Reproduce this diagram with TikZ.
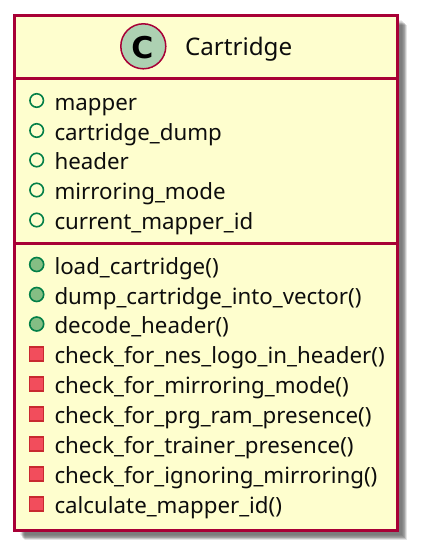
\documentclass[tikz,border=0pt]{standalone}
\usepackage{fontspec}
\setmainfont{Noto Sans}
\newfontfamily\spotfont{DejaVu Sans}
\definecolor{classfill}{HTML}{FEFECE}
\definecolor{classline}{HTML}{A80036}
\definecolor{spotfill}{HTML}{ADD1B2}
\definecolor{publine}{HTML}{038048}
\definecolor{pubfill}{HTML}{84BE84}
\definecolor{privline}{HTML}{C82930}
\definecolor{privfill}{HTML}{F24D5C}
\tikzset{
  x=1pt,y=-1pt,
  member/.style={anchor=base west,inner sep=0pt,outer sep=0pt,font=\fontsize{22.3}{22.3}\selectfont,text=black!95},
  fieldmark/.style={circle,draw=publine,line width=1.6pt,fill=none,minimum size=13.5pt,inner sep=0pt},
  pubmark/.style={circle,draw=publine,line width=1.6pt,fill=pubfill,minimum size=14pt,inner sep=0pt},
  privmark/.style={rectangle,draw=privline,line width=1.2pt,fill=privfill,minimum size=14pt,inner sep=0pt},
  rule/.style={draw=classline,line width=3pt},
}
\begin{document}
\begin{tikzpicture}
\useasboundingbox (0,0) rectangle (422,555);
\foreach \o/\a in {10/.05,9.5/.06,9/.07,8.5/.08,8/.09,7.5/.09,7/.09,6/.09,5/.06}{
  \fill[black,opacity=\a] (14.5+\o,15+\o) rectangle (397+\o,530+\o);
}
\node[draw=classline,fill=classfill,line width=3pt,inner sep=0pt,outer sep=0pt,minimum width=382.5pt,minimum height=515pt,anchor=north west] (box) at (14.5,15) {};
\draw[rule] (box.west |- 0,78) coordinate (h1) -- (box.east |- 0,78) coordinate (h2);
\draw[rule] (box.west |- 0,243) coordinate (h3) -- (box.east |- 0,243) coordinate (h4);
\node[circle,draw=classline,fill=spotfill,line width=1.5pt,minimum size=45pt,inner sep=0pt] (spot) at (143.3,46.3) {};
\node[font=\spotfont\bfseries\fontsize{30}{30}\selectfont,inner sep=0pt] (spotc) at (142.5,47.5) {C};
\node[member,font=\fontsize{24.2}{24.2}\selectfont] (title) at (185,55) {Cartridge};
\foreach \n/\y/\t in {f1/110/mapper,f2/140/cartridge\_dump,f3/169.5/header,f4/199.5/mirroring\_mode,f5/229.5/current\_mapper\_id}{
  \node[fieldmark] (\n m) at (36.7,\y-9.5) {};
  \node[member] (\n) at (54.5,\y) {\t};
}
\foreach \n/\y/\t in {m1/274/load\_cartridge(),m2/304/dump\_cartridge\_into\_vector(),m3/333.5/decode\_header()}{
  \node[pubmark] (\n m) at (36.7,\y-9.5) {};
  \node[member] (\n) at (54.5,\y) {\t};
}
\foreach \n/\y/\t in {p1/363.5/check\_for\_nes\_logo\_in\_header(),p2/393.5/check\_for\_mirroring\_mode(),p3/423.5/check\_for\_prg\_ram\_presence(),p4/453.5/check\_for\_trainer\_presence(),p5/483.5/check\_for\_ignoring\_mirroring(),p6/513.5/calculate\_mapper\_id()}{
  \node[privmark] (\n m) at (36.7,\y-9.5) {};
  \node[member] (\n) at (54.5,\y) {\t};
}
\end{tikzpicture}
\end{document}
